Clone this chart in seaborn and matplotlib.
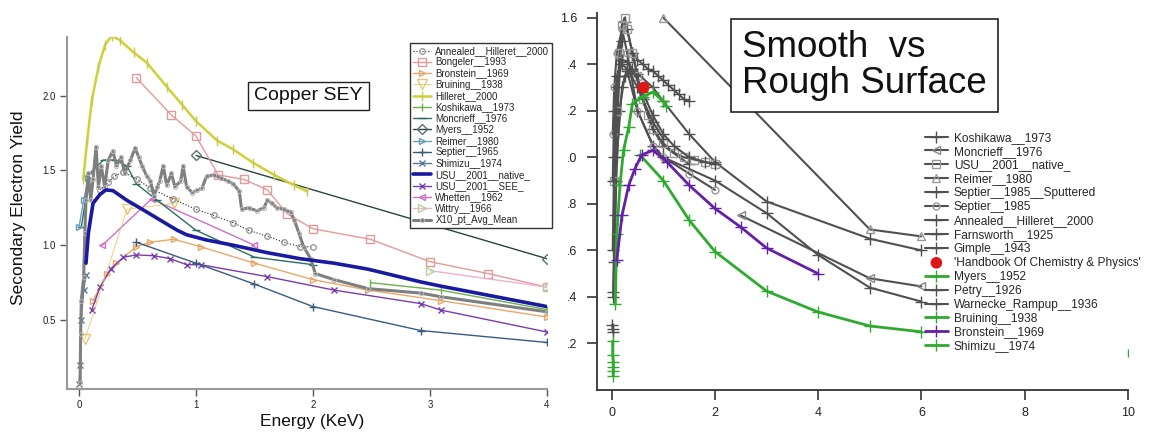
import numpy as np
import pandas as pd
import matplotlib
matplotlib.use("Agg")
import matplotlib.pyplot as plt
import seaborn as sns

sns.set_theme(style="white")
plt.rcParams["font.family"] = ["Liberation Sans", "DejaVu Sans"]

# ---------------- Left panel: Copper SEY ----------------
hilleret_x = [0.037, 0.07, 0.11, 0.166, 0.223, 0.28, 0.35, 0.466, 0.58, 0.75, 0.88, 1.0, 1.18, 1.32, 1.49, 1.67, 1.84, 1.95]
hilleret_y = [1.44, 1.70, 1.97, 2.19, 2.34, 2.40, 2.37, 2.29, 2.22, 2.06, 1.94, 1.83, 1.70, 1.64, 1.55, 1.47, 1.40, 1.36]

bongeler_x = [0.49, 0.79, 1.0, 1.19, 1.41, 1.61, 1.78, 2.0, 2.49, 3.0, 3.5, 4.0]
bongeler_y = [2.12, 1.87, 1.73, 1.47, 1.44, 1.37, 1.21, 1.11, 1.04, 0.89, 0.81, 0.72]

myers_x = [1.0, 4.0]
myers_y = [1.60, 0.91]

annealed_x = [0.18, 0.25, 0.30, 0.38, 0.50, 0.61, 0.80, 1.0, 1.15, 1.32, 1.45, 1.61, 1.75, 1.89, 2.0]
annealed_y = [1.37, 1.42, 1.46, 1.49, 1.44, 1.38, 1.31, 1.24, 1.20, 1.15, 1.10, 1.06, 1.02, 0.99, 0.99]

x10_x = [0.01, 0.014, 0.02, 0.04, 0.05, 0.06, 0.08, 0.10, 0.12, 0.146, 0.166, 0.19, 0.22, 0.25, 0.29, 0.32,
         0.36, 0.39, 0.44, 0.48, 0.51, 0.54, 0.58, 0.61, 0.64, 0.67, 0.69, 0.72, 0.75, 0.79, 0.82, 0.87,
         0.89, 0.92, 0.97, 1.01, 1.05, 1.09, 1.15, 1.21, 1.27, 1.32, 1.37, 1.39, 1.45, 1.52, 1.58, 1.61,
         1.65, 1.69, 1.75, 1.81, 1.84, 1.88, 1.92, 1.98, 2.02, 2.18, 2.47, 2.92, 3.09, 4.0]
x10_y = [0.08, 0.41, 0.63, 0.79, 1.08, 1.30, 1.48, 1.30, 1.44, 1.66, 1.39, 1.53, 1.39, 1.57, 1.63, 1.53,
         1.59, 1.48, 1.57, 1.65, 1.59, 1.53, 1.46, 1.43, 1.33, 1.39, 1.43, 1.53, 1.40, 1.48, 1.39, 1.43,
         1.53, 1.39, 1.35, 1.37, 1.38, 1.46, 1.47, 1.45, 1.43, 1.41, 1.36, 1.24, 1.25, 1.23, 1.25, 1.30,
         1.28, 1.25, 1.24, 1.22, 1.17, 1.08, 0.99, 0.91, 0.81, 0.77, 0.71, 0.68, 0.656, 0.555]

usu_native_x = [0.06, 0.08, 0.12, 0.18, 0.23, 0.29, 0.41, 0.55, 0.69, 0.84, 0.92, 1.09, 1.32, 1.61, 1.89, 2.18, 2.47, 2.92, 3.09, 4.0]
usu_native_y = [0.88, 1.08, 1.28, 1.34, 1.37, 1.365, 1.30, 1.236, 1.17, 1.10, 1.07, 1.035, 1.0, 0.95, 0.91, 0.88, 0.84, 0.755, 0.727, 0.59]

moncrieff_x = [0.02, 0.09, 0.21, 0.31, 0.41, 0.49, 0.67, 1.0, 1.5, 2.0]
moncrieff_y = [1.12, 1.48, 1.57, 1.57, 1.53, 1.41, 1.30, 1.10, 0.92, 0.87]

reimer_x = [0.0, 0.04, 0.08]
reimer_y = [1.12, 1.30, 1.45]

septier65_x = [0.49, 1.0, 1.5, 2.0, 2.92, 4.0]
septier65_y = [1.02, 0.88, 0.74, 0.59, 0.43, 0.35]

usu_see_x = [0.11, 0.18, 0.27, 0.38, 0.49, 0.64, 0.78, 0.92, 1.04, 1.61, 2.18, 2.92, 3.09, 4.0]
usu_see_y = [0.57, 0.72, 0.84, 0.92, 0.935, 0.93, 0.91, 0.87, 0.87, 0.79, 0.70, 0.61, 0.567, 0.42]

bronstein_x = [0.12, 0.24, 0.32, 0.49, 0.61, 0.81, 1.04, 1.5, 2.0, 2.47, 3.09, 4.0]
bronstein_y = [0.63, 0.81, 0.88, 0.99, 1.02, 1.04, 0.99, 0.88, 0.77, 0.70, 0.63, 0.52]

whetten_x = [0.2, 0.62, 1.5]
whetten_y = [1.0, 1.31, 1.0]

bruining_x = [0.05, 0.41, 0.81]
bruining_y = [0.37, 1.24, 1.28]

koshikawa_x = [2.49, 3.09, 4.0]
koshikawa_y = [0.75, 0.70, 0.57]

shimizu_x = [0.0, 0.01, 0.02, 0.04, 0.06]
shimizu_y = [0.07, 0.20, 0.50, 0.70, 0.80]

wittry_x = [3.0, 4.0]
wittry_y = [0.83, 0.72]

left_legend_order = ["Annealed__Hilleret__2000", "Bongeler__1993", "Bronstein__1969", "Bruining__1938",
                     "Hilleret__2000", "Koshikawa__1973", "Moncrieff__1976", "Myers__1952", "Reimer__1980",
                     "Septier__1965", "Shimizu__1974", "USU__2001__native_", "USU__2001__SEE_",
                     "Whetten__1962", "Wittry__1966", "X10_pt_Avg_Mean"]

# ---------------- Right panel: Smooth vs Rough ----------------
r_reimer_x = [1.0, 5.0, 6.0]
r_reimer_y = [1.60, 0.69, 0.66]
r_koshikawa_x = [0.03, 0.06, 0.1, 0.15, 0.2, 0.25, 0.3, 0.4, 0.5, 0.6, 0.8, 1.0, 1.5]
r_koshikawa_y = [0.42, 0.75, 1.10, 1.35, 1.50, 1.58, 1.55, 1.45, 1.35, 1.25, 1.12, 1.05, 0.97]
r_gimple_x = [0.03, 0.08, 0.15, 0.25, 0.35, 0.5, 0.8, 1.0, 1.5, 2.0, 3.0, 5.0, 6.0]
r_gimple_y = [0.40, 0.90, 1.20, 1.35, 1.38, 1.36, 1.30, 1.24, 1.10, 0.98, 0.81, 0.65, 0.60]
r_warnecke_x = [0.05, 0.1, 0.2, 0.3, 0.5, 0.8, 1.0, 2.0, 3.0, 4.0, 5.0, 6.0]
r_warnecke_y = [0.55, 1.00, 1.30, 1.37, 1.20, 1.05, 1.00, 0.90, 0.76, 0.58, 0.44, 0.38]
r_moncrieff_x = [2.5, 5.0, 6.0]
r_moncrieff_y = [0.75, 0.48, 0.445]
r_septier_x = [0.02, 0.05, 0.1, 0.2, 0.3, 0.5, 0.8, 1.0, 1.5, 2.0]
r_septier_y = [1.10, 1.30, 1.45, 1.55, 1.45, 1.20, 1.05, 1.00, 0.93, 0.86]
r_septier_sp_x = [0.4, 0.5, 0.6, 0.7, 0.8, 0.9, 1.0, 1.1, 1.2, 1.3, 1.4, 1.5]
r_septier_sp_y = [1.45, 1.42, 1.40, 1.38, 1.37, 1.35, 1.33, 1.31, 1.29, 1.27, 1.25, 1.24]
r_usu_x = [0.05, 0.1, 0.15, 0.2, 0.25, 0.3, 0.4, 0.5, 0.6, 0.7, 0.8, 1.0, 1.2, 1.4, 1.6, 1.8, 2.0]
r_usu_y = [0.90, 1.20, 1.45, 1.57, 1.60, 1.55, 1.45, 1.35, 1.25, 1.18, 1.12, 1.06, 1.02, 1.00, 0.99, 0.98, 0.97]
r_annealed_x = [0.02, 0.05, 0.1, 0.2, 0.3, 0.4, 0.6, 0.8, 1.0, 1.2, 1.5, 1.8, 2.0]
r_annealed_y = [0.60, 1.00, 1.30, 1.42, 1.41, 1.38, 1.28, 1.18, 1.10, 1.05, 1.00, 0.98, 0.97]
r_farnsworth_x = [0.01, 0.02, 0.03]
r_farnsworth_y = [0.28, 0.26, 0.25]
r_petry_x = [0.02, 0.05, 0.1, 0.2, 0.3, 0.5, 0.8, 1.0]
r_petry_y = [0.90, 1.20, 1.35, 1.40, 1.38, 1.30, 1.15, 1.08]
r_handbook_x = [0.62]
r_handbook_y = [1.30]
r_myers_x = [0.07, 0.1, 0.16, 0.23, 0.33, 0.4, 0.6, 0.8, 1.0, 1.05]
r_myers_y = [0.37, 0.67, 0.88, 1.03, 1.13, 1.23, 1.26, 1.28, 1.24, 1.22]
r_bruining_x = [0.55, 1.0, 1.5, 2.0, 3.0, 4.0, 5.0, 6.0]
r_bruining_y = [1.01, 0.90, 0.73, 0.595, 0.425, 0.335, 0.275, 0.25]
r_bronstein_x = [0.1, 0.2, 0.33, 0.45, 0.58, 0.8, 1.07, 1.5, 2.0, 2.5, 3.0, 4.0]
r_bronstein_y = [0.56, 0.75, 0.88, 0.95, 1.01, 1.03, 0.98, 0.88, 0.78, 0.70, 0.61, 0.50]
r_shimizu_x = [0.02, 0.02, 0.03, 0.03, 0.03, 0.03]
r_shimizu_y = [0.21, 0.15, 0.12, 0.10, 0.08, 0.06]
r_shimizu_far_x = [10.0]
r_shimizu_far_y = [0.16]

right_tick_vals = [1.6, 1.4, 1.2, 1.0, 0.8, 0.6, 0.4, 0.2]
right_tick_text = ["1.6", ".4", ".2", ".0", ".8", ".6", ".4", ".2"]

# ---------------- Figure ----------------
W, H = 1157, 434
fig = plt.figure(figsize=(W / 100, H / 100), dpi=100)

axL = fig.add_axes([66.7 / W, 1 - 389.3 / H, (547 - 66.7) / W, (389.3 - 36.7) / H])
axR = fig.add_axes([596.7 / W, 1 - 390 / H, (1128 - 596.7) / W, (390 - 13) / H])


def line(ax, x, y, label, color, lw=1.0, **kw):
    kw.setdefault("markeredgecolor", color)
    kw.setdefault("markeredgewidth", 1.0)
    sns.lineplot(x=np.asarray(x, float), y=np.asarray(y, float), ax=ax, color=color,
                 linewidth=lw, label=label, sort=False, estimator=None, **kw)


# left panel series
line(axL, myers_x, myers_y, "Myers__1952", "#2a4444", 1.0, marker="D", markersize=5,
     markerfacecolor="none", markeredgecolor="#607070")
line(axL, bongeler_x, bongeler_y, "Bongeler__1993", "#e39a9a", 1.0, marker="s", markersize=6,
     markerfacecolor="none")
line(axL, wittry_x, wittry_y, "Wittry__1966", "#f0b0d0", 1.0, marker=">", markersize=6,
     markerfacecolor="none", markeredgecolor="#b8d0a0")
line(axL, koshikawa_x, koshikawa_y, "Koshikawa__1973", "#6db04a", 1.0, marker="|", markersize=6)
line(axL, bronstein_x, bronstein_y, "Bronstein__1969", "#e8a868", 1.0, marker=">", markersize=5,
     markerfacecolor="none")
line(axL, usu_see_x, usu_see_y, "USU__2001__SEE_", "#7a3cb0", 1.0, marker="x", markersize=5)
line(axL, septier65_x, septier65_y, "Septier__1965", "#3a5a80", 1.0, marker="+", markersize=6)
line(axL, whetten_x, whetten_y, "Whetten__1962", "#d070c8", 1.0, marker="<", markersize=5,
     markerfacecolor="none")
line(axL, bruining_x, bruining_y, "Bruining__1938", "#e8c060", 0.6, marker="v", markersize=7,
     markerfacecolor="none", alpha=0.9)
line(axL, moncrieff_x, moncrieff_y, "Moncrieff__1976", "#2e6e62", 1.0, marker="_", markersize=6)
line(axL, reimer_x, reimer_y, "Reimer__1980", "#6aa0b8", 1.0, marker=">", markersize=5,
     markerfacecolor="none")
line(axL, annealed_x, annealed_y, "Annealed__Hilleret__2000", "#222222", 0.8, marker="o", markersize=4,
     markerfacecolor="none", markeredgecolor="#9a9a9a", linestyle=":")
line(axL, shimizu_x, shimizu_y, "Shimizu__1974", "#5a7890", 1.0, marker="x", markersize=4)
line(axL, x10_x, x10_y, "X10_pt_Avg_Mean", "#7f7f7f", 2.2, marker="o", markersize=3,
     markerfacecolor="none", markeredgecolor="#b8b8b8", markeredgewidth=0.7)
line(axL, hilleret_x, hilleret_y, "Hilleret__2000", "#d0d038", 1.8, marker="|", markersize=7,
     markeredgecolor="#c8c850")
line(axL, usu_native_x, usu_native_y, "USU__2001__native_", "#1a1aa0", 2.6)

axL.set_xlim(-0.105, 4.0)
axL.set_ylim(0.037, 2.394)
axL.set_xticks([0, 1, 2, 3, 4])
axL.set_xticklabels(["0", "1", "2", "3", "4"])
axL.set_yticks([0.5, 1.0, 1.5, 2.0])
axL.set_yticklabels(["0.5", "1.0", "1.5", "2.0"])
axL.tick_params(axis="both", labelsize=7, colors="#555555", length=5, width=1, direction="out",
                pad=3, bottom=True, left=True)
axL.tick_params(axis="both", labelcolor="#222222")
for s in ["top", "right"]:
    axL.spines[s].set_visible(False)
for s in ["left", "bottom"]:
    axL.spines[s].set_color("#999999")
    axL.spines[s].set_linewidth(1.5)
axL.set_xlabel("Energy (KeV)", fontsize=12.5, color="#111111")
axL.set_ylabel("Secondary Electron Yield", fontsize=12.5, color="#111111")
axL.xaxis.set_label_coords(0.51, -0.07)
axL.yaxis.set_label_coords(-0.085, 0.515)

h, l = axL.get_legend_handles_labels()
hd = dict(zip(l, h))
axL.legend([hd[k] for k in left_legend_order], left_legend_order, loc="upper left",
           bbox_to_anchor=(0.715, 0.982), fontsize=7, labelspacing=0.13, handlelength=1.8,
           handletextpad=0.5, borderpad=0.3, frameon=True, fancybox=False, edgecolor="#333333",
           framealpha=1, borderaxespad=0)

fig.text(308.5 / W, 1 - 96 / H, "Copper SEY", fontsize=14, ha="center", va="center", color="#111111",
         bbox=dict(boxstyle="square,pad=0.3", facecolor="white", edgecolor="#222222", linewidth=1))

# right panel series
grey = "#505050"
line(axR, r_reimer_x, r_reimer_y, "Reimer__1980", grey, 1.5, marker="^", markersize=6,
     markerfacecolor="none", markeredgecolor="#999999")
line(axR, r_gimple_x, r_gimple_y, "Gimple__1943", grey, 1.5, marker="+", markersize=8)
line(axR, r_warnecke_x, r_warnecke_y, "Warnecke_Rampup__1936", grey, 1.5, marker="+", markersize=8)
line(axR, r_moncrieff_x, r_moncrieff_y, "Moncrieff__1976", grey, 1.5, marker="<", markersize=6,
     markerfacecolor="none", markeredgecolor="#888888")
line(axR, r_koshikawa_x, r_koshikawa_y, "Koshikawa__1973", grey, 1.5, marker="+", markersize=8)
line(axR, r_septier_x, r_septier_y, "Septier__1985", grey, 1.5, marker="o", markersize=5,
     markerfacecolor="none", markeredgecolor="#999999")
line(axR, r_septier_sp_x, r_septier_sp_y, "Septier__1985__Sputtered", grey, 1.5, marker="+", markersize=9)
line(axR, r_usu_x, r_usu_y, "USU__2001__native_", grey, 1.5, marker="s", markersize=6,
     markerfacecolor="none", markeredgecolor="#999999")
line(axR, r_annealed_x, r_annealed_y, "Annealed__Hilleret__2000", grey, 1.5, marker="+", markersize=8)
line(axR, r_farnsworth_x, r_farnsworth_y, "Farnsworth__1925", grey, 1.5, marker="+", markersize=8)
line(axR, r_petry_x, r_petry_y, "Petry__1926", grey, 1.5, marker="+", markersize=8)
line(axR, r_myers_x, r_myers_y, "Myers__1952", "#2eaa2e", 2.0, marker="+", markersize=8)
line(axR, r_bruining_x, r_bruining_y, "Bruining__1938", "#2eaa2e", 2.0, marker="+", markersize=8)
line(axR, r_shimizu_x, r_shimizu_y, "Shimizu__1974", "#2eaa2e", 2.0, marker="+", markersize=8)
sns.scatterplot(x=r_shimizu_far_x, y=r_shimizu_far_y, ax=axR, marker="|", color="#2eaa2e", s=30,
                linewidth=1, legend=False)
line(axR, r_bronstein_x, r_bronstein_y, "Bronstein__1969", "#6420a8", 2.0, marker="+", markersize=8)
sns.scatterplot(x=r_handbook_x, y=r_handbook_y, ax=axR, color="#e01515", s=70, edgecolor="none",
                label="'Handbook Of Chemistry & Physics'", zorder=5)

axR.set_xlim(-0.29, 10.0)
axR.set_ylim(0.0, 1.62)
axR.set_xticks([0, 2, 4, 6, 8, 10])
axR.set_xticklabels(["0", "2", "4", "6", "8", "10"])
axR.set_yticks(right_tick_vals)
axR.set_yticklabels(right_tick_text)
axR.tick_params(axis="both", labelsize=9, colors="#333333", length=7, width=1.2, direction="out",
                bottom=True, left=True)
axR.tick_params(axis="y", pad=7)
axR.tick_params(axis="x", pad=5)
axR.tick_params(axis="both", labelcolor="#222222")
for s in ["top", "right"]:
    axR.spines[s].set_visible(False)
for s in ["left", "bottom"]:
    axR.spines[s].set_color("#333333")
    axR.spines[s].set_linewidth(1.3)
axR.set_xlabel("")
axR.set_ylabel("")

right_legend_order = ["Koshikawa__1973", "Moncrieff__1976", "USU__2001__native_", "Reimer__1980",
                      "Septier__1985__Sputtered", "Septier__1985", "Annealed__Hilleret__2000",
                      "Farnsworth__1925", "Gimple__1943", "'Handbook Of Chemistry & Physics'",
                      "Myers__1952", "Petry__1926", "Warnecke_Rampup__1936", "Bruining__1938",
                      "Bronstein__1969", "Shimizu__1974"]
h, l = axR.get_legend_handles_labels()
hd = dict(zip(l, h))
axR.legend([hd[k] for k in right_legend_order], right_legend_order, loc="upper left",
           bbox_to_anchor=(0.618, 0.685), fontsize=8.6, labelspacing=0.16, handlelength=1.9,
           handletextpad=0.5, borderpad=0.0, frameon=False, borderaxespad=0)

fig.text(742 / W, 1 - 30 / H, "Smooth  vs\nRough Surface", fontsize=26.5, ha="left", va="top",
         color="#111111", linespacing=1.02,
         bbox=dict(boxstyle="square,pad=0.3", facecolor="white", edgecolor="#222222", linewidth=1.2))

fig.savefig("out.png", dpi=100, facecolor="white")
